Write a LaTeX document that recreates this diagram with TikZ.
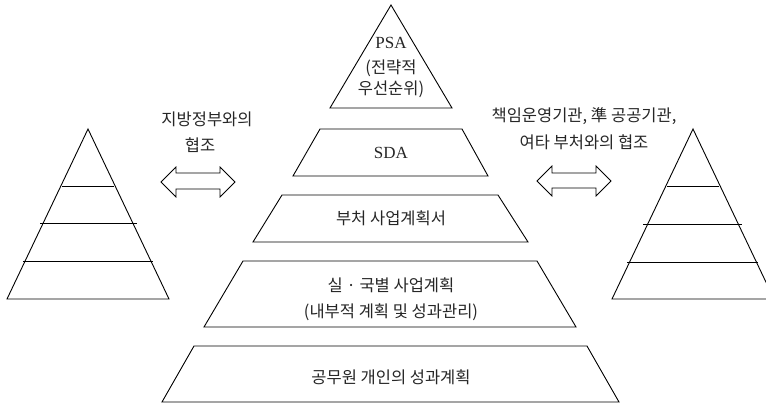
\documentclass[tikz,border=0pt]{standalone}
\usepackage{fontspec}
\setmainfont{Liberation Serif}
\newfontfamily\kr{Noto Sans CJK KR}
\newfontfamily\lat{Liberation Serif}
\begin{document}
\begin{tikzpicture}[x=1pt,y=-1pt,
  outl/.style={draw=black,line width=0.9pt,line join=miter},
  krtext/.style={font=\kr\fontsize{16.5}{18}\selectfont,inner sep=0pt,align=center,text=black!85},
  latin/.style={font=\lat\fontsize{17}{18}\selectfont,inner sep=0pt,text=black!85}]
\useasboundingbox (0,0) rectangle (766,405);
\clip (0,0) rectangle (766,405);
% central pyramid
\draw[outl] (391,5) -- (452,108) -- (330,108) -- cycle;
\draw[outl] (320,129) -- (462,129) -- (488,176) -- (293,176) -- cycle;
\draw[outl] (282,195) -- (498,195) -- (528,242) -- (253,242) -- cycle;
\draw[outl] (243,261) -- (537,261) -- (576,327) -- (204,327) -- cycle;
\draw[outl] (194,346) -- (587,346) -- (619,402) -- (162,402) -- cycle;
% texts
\node[latin] (psa) at (391,43) {PSA};
\node[krtext] (psa2) at (391,68) {(전략적};
\node[krtext] (psa3) at (391,89) {우선순위)};
\node[latin] (sda) at (391,153) {SDA};
\node[krtext] (dept) at (391,218) {부처 사업계획서};
\node[krtext] (office) at (391,285) {실 · 국별 사업계획};
\node[krtext] (office2) at (391,312) {(내부적 계획 및 성과관리)};
\node[krtext] (indiv) at (391,377) {공무원 개인의 성과계획};
\node[krtext] (local) at (207,119) {지방정부와의};
\node[krtext] (local2) at (200,145) {협조};
\node[krtext] (agency) at (584,116) {책임운영기관, 準 공공기관,};
\node[krtext] (agency2) at (584,142) {여타 부처와의 협조};
% left pyramid
\draw[outl] (88,129) -- (169,299) -- (7,299) -- cycle;
\draw[outl] (62,186) -- (114,186);
\draw[outl] (40,223) -- (137,223);
\draw[outl] (23,261) -- (153,261);
% right pyramid
\draw[outl] (693,129) -- (774,299) -- (612,299) -- cycle;
\draw[outl] (667,186) -- (719,186);
\draw[outl] (643,224) -- (742,224);
\draw[outl] (627,262) -- (758,262);
% double arrows
\draw[outl,line width=0.8pt] (161,182) -- (176,167) -- (176,173) -- (220,173) -- (220,167) -- (235,182)
  -- (220,197) -- (220,189) -- (176,189) -- (176,197) -- cycle;
\draw[outl,line width=0.8pt] (537,181) -- (552,166) -- (552,173) -- (596,173) -- (596,166) -- (611,181)
  -- (596,196) -- (596,188) -- (552,188) -- (552,196) -- cycle;
\end{tikzpicture}
\end{document}
